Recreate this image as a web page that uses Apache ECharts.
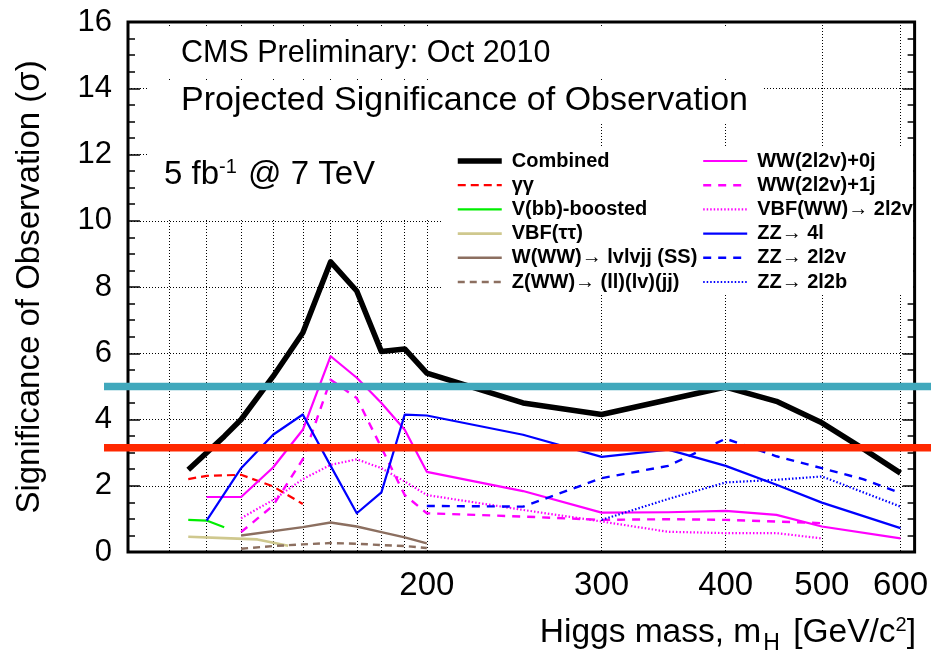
<!DOCTYPE html>
<html>
<head>
<meta charset="utf-8">
<script src="https://cdn.jsdelivr.net/npm/echarts@6/dist/echarts.min.js"></script>
<style>
html, body { margin: 0; padding: 0; background: #fff; }
#chart { width: 931px; height: 656px; }
</style>
</head>
<body>
<div id="chart"></div>
<script>
// Higgs mass points (GeV/c^2) and projected significance per channel
const combinedMass = [115, 125, 130, 140, 150, 160, 170, 180, 190, 200, 250, 300, 400, 450, 500, 550, 600];
const combinedSig  = [2.48, 3.49, 4.0, 5.3, 6.62, 8.76, 7.88, 6.05, 6.13, 5.4, 4.5, 4.15, 4.98, 4.55, 3.9, 3.12, 2.38];

const ggMass = [115, 120, 130, 140, 150];
const ggSig  = [2.2, 2.3, 2.33, 1.98, 1.45];

const vbbMass = [115, 120, 125];
const vbbSig  = [0.97, 0.95, 0.75];

const vbfTauMass = [115, 125, 135, 145];
const vbfTauSig  = [0.46, 0.42, 0.38, 0.19];

const wwwSSMass = [130, 150, 160, 170, 180, 190, 200];
const wwwSSSig  = [0.5, 0.75, 0.89, 0.77, 0.6, 0.44, 0.26];

const zwwMass = [130, 140, 150, 160, 170, 180, 190, 200];
const zwwSig  = [0.1, 0.18, 0.23, 0.27, 0.25, 0.21, 0.18, 0.12];

const ww0jMass = [120, 130, 140, 150, 160, 170, 180, 190, 200, 250, 300, 350, 400, 450, 500, 600];
const ww0jSig  = [1.66, 1.66, 2.55, 3.69, 5.91, 5.26, 4.5, 3.69, 2.42, 1.84, 1.19, 1.2, 1.24, 1.12, 0.77, 0.41];

const ww1jMass = [130, 140, 150, 160, 170, 180, 190, 200, 250, 300, 350, 400, 450, 500];
const ww1jSig  = [0.6, 1.4, 2.8, 5.2, 4.65, 3.15, 1.72, 1.17, 1.07, 0.97, 0.99, 0.97, 0.92, 0.87];

const vbfWWMass = [130, 140, 150, 160, 170, 180, 190, 200, 250, 300, 350, 400, 450, 500];
const vbfWWSig  = [1.02, 1.57, 2.2, 2.63, 2.8, 2.53, 2.13, 1.72, 1.27, 0.92, 0.61, 0.57, 0.57, 0.41];

const zz4lMass = [120, 130, 140, 150, 160, 170, 180, 190, 200, 250, 300, 350, 400, 450, 500, 600];
const zz4lSig  = [0.95, 2.53, 3.54, 4.15, 2.6, 1.17, 1.8, 4.15, 4.12, 3.54, 2.87, 3.09, 2.6, 2.03, 1.49, 0.72];

const zz2l2vMass = [200, 250, 300, 350, 400, 450, 500, 550, 600];
const zz2l2vSig  = [1.39, 1.37, 2.23, 2.6, 3.42, 2.89, 2.53, 2.2, 1.78];

const zz2l2bMass = [300, 350, 400, 450, 500, 600];
const zz2l2bSig  = [0.97, 1.6, 2.1, 2.18, 2.28, 1.37];

// Discovery (5 sigma) and evidence thresholds
const thresholdLevels = [5, 3.15];

// Axis ticks and labels
const xLabelValues = [200, 300, 400, 500, 600];
const xGridValues  = [110, 120, 130, 140, 150, 160, 170, 180, 190, 200, 300, 400, 500, 600];

const FONT = '"Liberation Sans", Arial, Helvetica, sans-serif';

function pairs(xs, ys) { return xs.map((x, i) => [x, ys[i]]); }

const channels = [
  { name: 'Combined',              x: combinedMass, y: combinedSig, color: '#000000', width: 5.5, type: 'solid' },
  { name: '\u03b3\u03b3',          x: ggMass,       y: ggSig,       color: '#ff0000', width: 2.2, type: [8, 5] },
  { name: 'V(bb)-boosted',         x: vbbMass,      y: vbbSig,      color: '#00ee00', width: 2.2, type: 'solid' },
  { name: 'VBF(\u03c4\u03c4)',     x: vbfTauMass,   y: vbfTauSig,   color: '#cfc88e', width: 2.6, type: 'solid' },
  { name: 'W(WW)\u2192 lvlvjj (SS)', x: wwwSSMass,  y: wwwSSSig,    color: '#8c6f60', width: 2.4, type: 'solid' },
  { name: 'Z(WW)\u2192 (ll)(lv)(jj)', x: zwwMass,   y: zwwSig,      color: '#8c6f60', width: 2.4, type: [7, 5] },
  { name: 'WW(2l2v)+0j',           x: ww0jMass,     y: ww0jSig,     color: '#ff00ff', width: 2.2, type: 'solid' },
  { name: 'WW(2l2v)+1j',           x: ww1jMass,     y: ww1jSig,     color: '#ff00ff', width: 2.4, type: [8, 7] },
  { name: 'VBF(WW)\u2192 2l2v',    x: vbfWWMass,    y: vbfWWSig,    color: '#ff00ff', width: 2.2, type: [1.5, 2] },
  { name: 'ZZ\u2192 4l',           x: zz4lMass,     y: zz4lSig,     color: '#0000ff', width: 2.2, type: 'solid' },
  { name: 'ZZ\u2192 2l2v',         x: zz2l2vMass,   y: zz2l2vSig,   color: '#0000ff', width: 2.4, type: [8, 7] },
  { name: 'ZZ\u2192 2l2b',         x: zz2l2bMass,   y: zz2l2bSig,   color: '#0000ff', width: 2.2, type: [1.5, 2] }
];

const chart = echarts.init(document.getElementById('chart'), null, { renderer: 'canvas' });

const legendText = {
  fontFamily: FONT, fontSize: 20, fontWeight: 'bold', color: '#000',
  padding: [0, 0, 0, 5], lineHeight: 20
};
const legendBase = {
  orient: 'vertical', top: 151, padding: 0, itemWidth: 44, itemHeight: 12, itemGap: 4.2,
  selectedMode: false, textStyle: legendText, z: 6,
  // line-only keys drawn with each series' own stroke; the marker dot is hidden
  itemStyle: { opacity: 0 },
  lineStyle: { width: 'inherit', type: 'inherit', color: 'inherit' }
};

const dotted = { color: '#000', width: 1, type: [1, 2] };

const option = {
  animation: false,
  backgroundColor: '#fff',
  grid: { left: 128, right: 15, top: 22, bottom: 104, show: true, borderColor: '#000', borderWidth: 3, backgroundColor: 'transparent' },
  legend: [
    Object.assign({}, legendBase, { left: 455, data: channels.slice(0, 6).map(c => c.name) }),
    Object.assign({}, legendBase, { left: 702, data: channels.slice(6).map(c => c.name) })
  ],
  xAxis: {
    type: 'log', logBase: 10, min: 100, max: 620,
    axisLine: { show: false },
    axisTick: { show: false, customValues: xGridValues },
    axisLabel: { customValues: xLabelValues, fontFamily: FONT, fontSize: 33, color: '#000', margin: 17 },
    splitLine: { show: true, lineStyle: dotted },
    minorTick: { show: false }, minorSplitLine: { show: false }
  },
  yAxis: [
    {
      type: 'value', min: 0, max: 16, interval: 2,
      axisLine: { show: false },
      axisTick: { show: true, inside: true, length: 12, lineStyle: { color: '#000', width: 1.5 } },
      minorTick: { show: true, splitNumber: 4, length: 7, lineStyle: { color: '#000', width: 1.5 } },
      axisLabel: { fontFamily: FONT, fontSize: 31, color: '#000', margin: 16 },
      splitLine: { show: true, lineStyle: dotted }
    },
    {
      type: 'value', min: 0, max: 16, interval: 2, position: 'right',
      axisLine: { show: false },
      axisTick: { show: true, inside: true, length: 12, lineStyle: { color: '#000', width: 1.5 } },
      minorTick: { show: true, splitNumber: 4, length: 7, lineStyle: { color: '#000', width: 1.5 } },
      axisLabel: { show: false },
      splitLine: { show: false }
    }
  ],
  series: channels.map((c, i) => ({
    type: 'line', name: c.name, data: pairs(c.x, c.y),
    symbol: 'none', smooth: false, z: 2 + (i === 0 ? 1 : 0),
    color: c.color,
    lineStyle: { color: c.color, width: c.width, type: c.type, cap: 'butt', join: 'round' }
  }))
};

chart.setOption(option);

// White panels behind the text blocks and legend (they hide the grid there)
const panels = [
  [147, 26, 615, 51],
  [147, 80, 615, 44],
  [147, 123, 296, 97],
  [443, 146, 470, 148]
].map(r => ({ type: 'rect', shape: { x: r[0], y: r[1], width: r[2], height: r[3] }, style: { fill: '#fff' }, z: 1, silent: true }));

const texts = [
  { type: 'text', x: 181, y: 54, z: 5, style: { text: 'CMS Preliminary: Oct 2010', fontFamily: FONT, fontSize: 30.5, fill: '#000', align: 'left', verticalAlign: 'middle' } },
  { type: 'text', x: 181, y: 101, z: 5, style: { text: 'Projected Significance of Observation', fontFamily: FONT, fontSize: 34, fill: '#000', align: 'left', verticalAlign: 'middle' } },
  { type: 'text', x: 164, y: 175, z: 5, style: {
      text: '5 fb{sup|-1} @ 7 TeV', fontFamily: FONT, fontSize: 33, fill: '#000', align: 'left', verticalAlign: 'middle',
      rich: { sup: { fontFamily: FONT, fontSize: 20, fill: '#000', padding: [0, 2, 16, 0] } } } },
  { type: 'text', x: 916, y: 633, z: 5, style: {
      text: 'Higgs mass, m{sub|H} [GeV/c{sup|2}]', fontFamily: FONT, fontSize: 33.5, fill: '#000', align: 'right', verticalAlign: 'middle',
      rich: { sub: { fontFamily: FONT, fontSize: 23, fill: '#000', padding: [22, 4, 0, 2] }, sup: { fontFamily: FONT, fontSize: 20, fill: '#000', padding: [0, 0, 16, 0] } } } },
  { type: 'text', x: 30, y: 287, z: 5, rotation: Math.PI / 2, style: {
      text: 'Significance of Observation (\u03c3)', fontFamily: FONT, fontSize: 33, fill: '#000', align: 'center', verticalAlign: 'middle' } }
];

// Threshold bands, placed through the y-axis scale and running past the frame
const thresholdColors = ['#40a8bc', '#ff2800'];
const bands = thresholdLevels.map((v, i) => {
  const py = chart.convertToPixel({ yAxisIndex: 0 }, v);
  return { type: 'rect', shape: { x: 104, y: py - 3.75, width: 827, height: 7.5 }, style: { fill: thresholdColors[i] }, z: 20, silent: true };
});

chart.setOption({ graphic: { elements: panels.concat(texts, bands) } });
</script>
</body>
</html>
